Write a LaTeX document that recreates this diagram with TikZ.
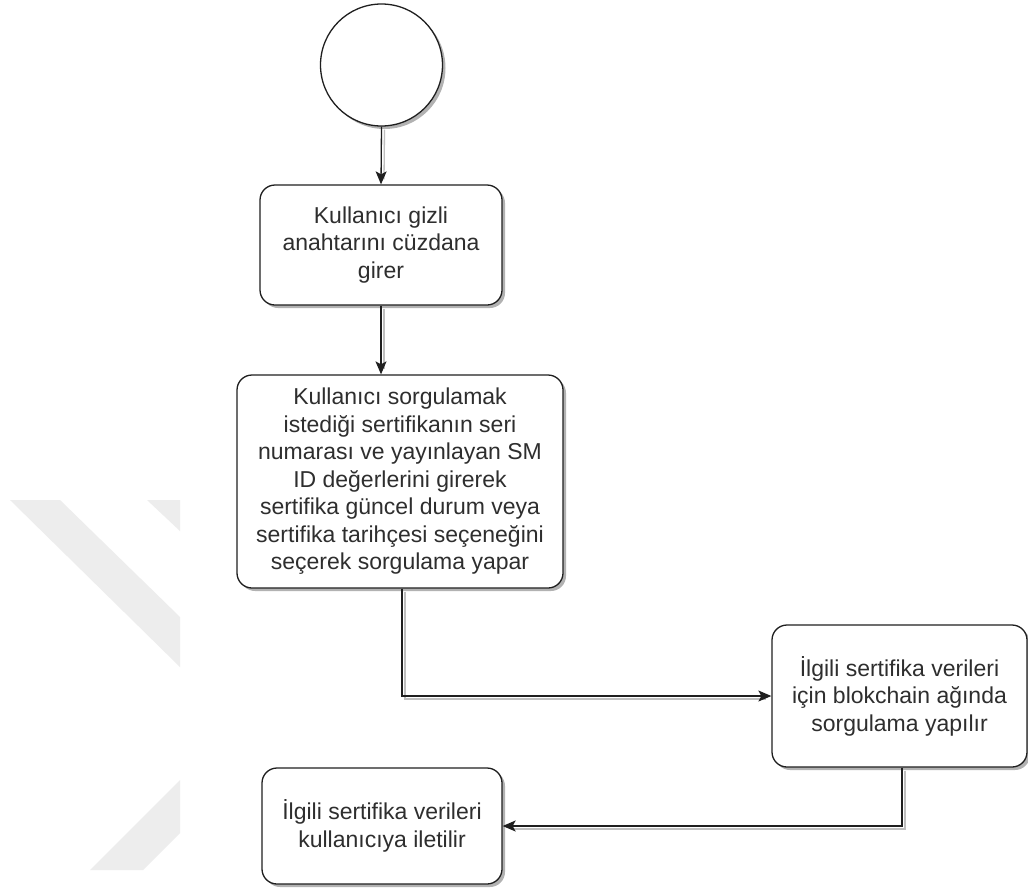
\documentclass[tikz,border=0pt]{standalone}
\usepackage{fontspec}
\setmainfont{Liberation Sans}
\usetikzlibrary{arrows.meta,shadows}
\begin{document}
\begin{tikzpicture}[x=1pt,y=-1pt,
  stepbox/.style={draw=black!88, line width=1.3pt, rounded corners=15pt, fill=white,
    align=center, inner sep=0pt, text=black!82,
    font=\fontsize{23}{27.5}\selectfont,
    drop shadow={shadow xshift=3pt, shadow yshift=-3pt, opacity=0.3, fill=black}},
  startnode/.style={circle, draw=black!88, line width=1.3pt, fill=white, minimum size=122pt,
    inner sep=0pt,
    drop shadow={shadow xshift=3pt, shadow yshift=-3pt, opacity=0.3, fill=black}},
  flow/.style={draw=black!88, line width=1.3pt, -{Stealth[length=13pt,width=11pt,inset=3pt]}},
  flowshadow/.style={draw=black!25, line width=1.3pt, transform canvas={shift={(3pt,-3pt)}}},
  wm/.style={fill=black!7}]

% page
\fill[white] (0,0) rectangle (1028,895);
\useasboundingbox (0,0) rectangle (1028,895);

% light background stripes
\fill[wm] (10,500) -- (60,500) -- (180,617) -- (180,667) -- cycle;
\fill[wm] (147,500) -- (180,500) -- (180,531) -- cycle;
\fill[wm] (180,780) -- (180,833) -- (143,870) -- (90,870) -- cycle;

% nodes
\node[startnode] (start) at (381.5,65) {};
\node[stepbox, minimum width=242pt, minimum height=120pt] (b1) at (381,245)
  {Kullanıcı gizli\\anahtarını cüzdana\\girer};
\node[stepbox, minimum width=326pt, minimum height=213pt] (b2) at (400,481.5)
  {Kullanıcı sorgulamak\\istediği sertifikanın seri\\numarası ve yayınlayan SM\\ID değerlerini girerek\\sertifika güncel durum veya\\sertifika tarihçesi seçeneğini\\seçerek sorgulama yapar};
\node[stepbox, minimum width=255pt, minimum height=142pt] (b3) at (899.5,696)
  {İlgili sertifika verileri\\için blokchain ağında\\sorgulama yapılır};
\node[stepbox, minimum width=240pt, minimum height=116pt] (b4) at (382,826)
  {İlgili sertifika verileri\\kullanıcıya iletilir};

% connector shadows
\draw[flowshadow] (start.south) -- ([yshift=8pt]b1.north);
\draw[flowshadow] (b1.south) -- ([yshift=8pt]b1.south |- b2.north);
\draw[flowshadow] ([xshift=2pt]b2.south) |- ([xshift=-8pt]b3.west);
\draw[flowshadow] ([xshift=2.5pt]b3.south) |- ([xshift=8pt]b4.east);

% connectors
\draw[flow] (start.south) -- (b1.north);
\draw[flow] (b1.south) -- (b1.south |- b2.north);
\draw[flow] ([xshift=2pt]b2.south) |- (b3.west);
\draw[flow] ([xshift=2.5pt]b3.south) |- (b4.east);
\end{tikzpicture}
\end{document}
